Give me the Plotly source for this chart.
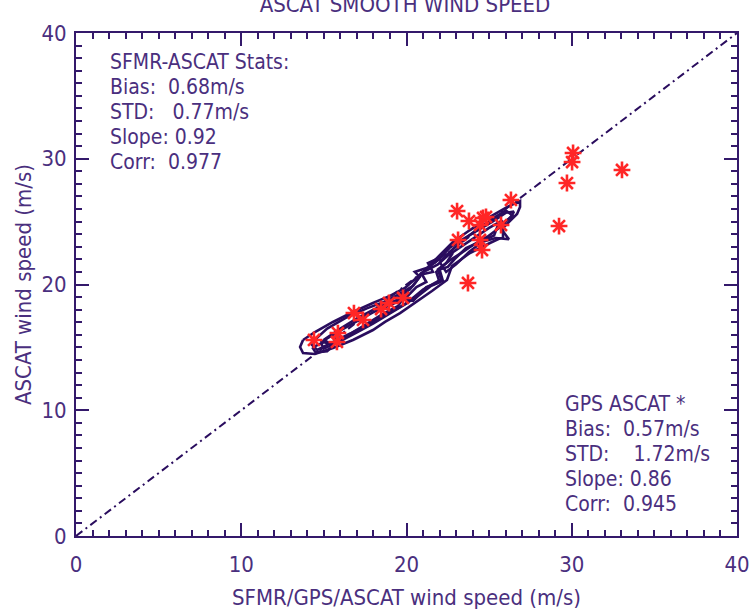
import plotly.graph_objects as go

# ---------------- data ----------------
title_text = "ASCAT SMOOTH WIND SPEED"
x_title = "SFMR/GPS/ASCAT wind speed (m/s)"
y_title = "ASCAT wind speed (m/s)"
axis_range = [0, 40]
major_step = 10
minor_step = 1

# one-to-one reference line
line_x = [0, 40]
line_y = [0, 40]

# GPS vs ASCAT points (asterisks)
gps_x = [14.40, 15.85, 15.79, 16.82, 17.37, 18.46, 18.94, 19.79, 23.06, 23.78,
         24.63, 24.81, 24.45, 25.72, 23.12, 24.45, 24.57, 23.72, 26.32, 30.08,
         30.02, 29.71, 33.04, 29.23]
gps_y = [15.59, 16.14, 15.43, 17.73, 17.18, 18.05, 18.53, 18.93, 25.84, 25.05,
         25.29, 25.37, 24.73, 24.73, 23.54, 23.54, 22.74, 20.12, 26.72, 30.46,
         29.74, 28.07, 29.11, 24.65]

# SFMR-ASCAT density contours (traced loops)
contour1_x = [13.74, 14.46, 15.55, 16.76, 17.97, 19.00, 19.91, 21.00, 22.03, 22.81,
              23.84, 25.05, 26.08, 26.87, 26.87, 26.69, 25.84, 25.84, 25.05, 23.84,
              22.75, 22.45, 21.54, 20.51, 19.61, 18.70, 17.97, 16.76, 15.55, 14.46,
              13.74, 13.56, 13.74]
contour1_y = [15.59, 16.22, 17.02, 17.81, 18.53, 19.09, 19.72, 20.99, 22.35, 23.38,
              24.33, 25.37, 26.16, 26.64, 26.16, 25.61, 24.49, 23.78, 23.30, 22.50,
              21.47, 20.36, 19.48, 18.53, 17.73, 17.02, 16.38, 15.59, 14.95, 14.47,
              14.55, 15.03, 15.59]
contour2_x = [14.2, 15.2, 16.4, 17.6, 18.6, 19.5, 20.4, 20.9, 21.6, 21.3, 22.1, 22.6,
              23.4, 24.3, 25.2, 26.0, 26.5, 26.3, 25.5, 25.3, 24.6, 23.6, 22.9, 22.5,
              22.0, 22.2, 21.5, 20.6, 19.6, 18.6, 17.6, 16.6, 15.5, 14.6, 14.2]
contour2_y = [15.3, 16.5, 17.4, 18.1, 18.6, 19.2, 19.9, 20.8, 21.0, 21.7, 22.2, 22.9,
              23.6, 24.3, 25.0, 25.7, 25.8, 25.3, 24.6, 23.9, 23.5, 22.9, 22.0, 21.4,
              21.2, 20.3, 19.9, 19.0, 18.2, 17.5, 16.8, 16.1, 15.4, 14.8, 15.3]
contour3_x = [14.8, 15.8, 16.9, 18.0, 19.1, 20.0, 20.6, 21.2, 20.9, 21.9, 22.5, 23.3,
              24.2, 25.0, 25.8, 25.6, 24.9, 24.1, 23.3, 22.6, 21.9, 22.1, 21.0, 20.0,
              19.0, 18.0, 17.0, 16.0, 15.0, 14.8]
contour3_y = [15.4, 16.2, 17.0, 17.8, 18.4, 19.0, 19.8, 20.2, 20.9, 21.6, 22.3, 23.0,
              23.8, 24.5, 25.1, 24.5, 23.8, 23.2, 22.5, 21.9, 21.2, 20.4, 19.6, 18.5,
              17.7, 16.9, 16.2, 15.5, 14.9, 15.4]
contour4_x = [14.3, 15.0, 15.6, 15.2, 14.5, 14.3]
contour4_y = [15.0, 15.4, 15.2, 14.7, 14.6, 15.0]
contour5_x = [22.0, 22.8, 23.6, 24.4, 25.2, 26.0, 26.4, 26.0, 25.8, 26.2, 25.4, 24.6,
              23.8, 23.0, 22.4, 22.0]
contour5_y = [21.8, 22.8, 23.7, 24.5, 25.2, 25.9, 25.5, 25.0, 24.3, 23.6, 23.7, 23.4,
              22.6, 21.6, 21.0, 21.8]
contour6_x = [19.4, 20.2, 20.8, 20.5, 21.4, 22.2, 22.8, 22.4, 21.8, 22.0, 21.2, 20.4, 19.4]
contour6_y = [18.9, 19.6, 20.6, 21.0, 21.4, 22.3, 22.5, 21.7, 21.0, 20.2, 19.8, 18.7, 18.9]
contour7_x = [15.0, 16.0, 17.0, 18.0, 19.0, 19.8, 19.5, 18.5, 17.5, 16.5, 15.5, 15.0]
contour7_y = [15.6, 16.5, 17.3, 18.0, 18.6, 18.9, 18.3, 17.6, 16.8, 16.0, 15.2, 15.6]

sfmr_stats = ["SFMR-ASCAT Stats:", "Bias:  0.68m/s", "STD:   0.77m/s",
              "Slope: 0.92", "Corr:  0.977"]
gps_stats = ["GPS ASCAT *", "Bias:  0.57m/s", "STD:    1.72m/s",
             "Slope: 0.86", "Corr:  0.945"]

# ---------------- style ----------------
AX = "#34196b"
TXT = "#4a2f7e"
CONT = "#2a0d5e"
RED = "#ff2626"
FONT = "Liberation Sans Narrow, DejaVu Sans Condensed, Roboto Condensed, Liberation Sans, sans-serif"

fig = go.Figure()

fig.add_trace(go.Scatter(x=line_x, y=line_y, mode="lines",
                         line=dict(color=CONT, width=2, dash="8px,4px,2px,4px"),
                         hoverinfo="skip", showlegend=False))

contours = [(contour1_x, contour1_y), (contour2_x, contour2_y),
            (contour3_x, contour3_y), (contour4_x, contour4_y),
            (contour5_x, contour5_y), (contour6_x, contour6_y),
            (contour7_x, contour7_y)]
for cx, cy in contours:
    fig.add_trace(go.Scatter(x=cx, y=cy, mode="lines",
                             line=dict(color=CONT, width=2.6),
                             showlegend=False))

fig.add_trace(go.Scatter(x=gps_x, y=gps_y, mode="markers",
                         marker=dict(symbol="asterisk-open", size=14, color=RED,
                                     line=dict(color=RED, width=2.6)),
                         showlegend=False))

axis_common = dict(range=axis_range, tickmode="linear", tick0=0, dtick=major_step,
                   ticks="inside", ticklen=13, tickwidth=1.5, tickcolor=AX,
                   showline=True, linecolor=AX, linewidth=2, mirror="ticks",
                   showgrid=False, zeroline=False, automargin=False,
                   minor=dict(tick0=0, dtick=minor_step, ticks="inside", ticklen=6,
                              tickwidth=1.5, tickcolor=AX, showgrid=False),
                   tickfont=dict(family=FONT, size=22, color=TXT))

fig.update_xaxes(**axis_common, ticklabelstandoff=8,
                 title=dict(text=x_title, font=dict(family=FONT, size=22, color=TXT),
                            standoff=24))
fig.update_yaxes(**axis_common, ticklabelstandoff=3,
                 title=dict(text=y_title, font=dict(family=FONT, size=22, color=TXT),
                            standoff=4))

ann = []
for i, t in enumerate(sfmr_stats):
    ann.append(dict(text=t, xref="paper", yref="paper", x=(108 - 76) / 661,
                    y=(536 - (62 + 25 * i)) / 503, xanchor="left", yanchor="middle",
                    showarrow=False, font=dict(family=FONT, size=21, color=TXT)))
for i, t in enumerate(gps_stats):
    ann.append(dict(text=t, xref="paper", yref="paper", x=(563 - 76) / 661,
                    y=(536 - (404 + 25 * i)) / 503, xanchor="left", yanchor="middle",
                    showarrow=False, font=dict(family=FONT, size=21, color=TXT)))

fig.update_layout(
    width=750, height=610,
    margin=dict(l=76, r=13, t=33, b=74),
    paper_bgcolor="white", plot_bgcolor="white",
    title=dict(text=title_text, x=405 / 750, xanchor="center",
               y=1 - 4 / 610, yanchor="middle",
               font=dict(family=FONT, size=22, color=TXT)),
    annotations=ann,
)

fig.write_html("out.html")
